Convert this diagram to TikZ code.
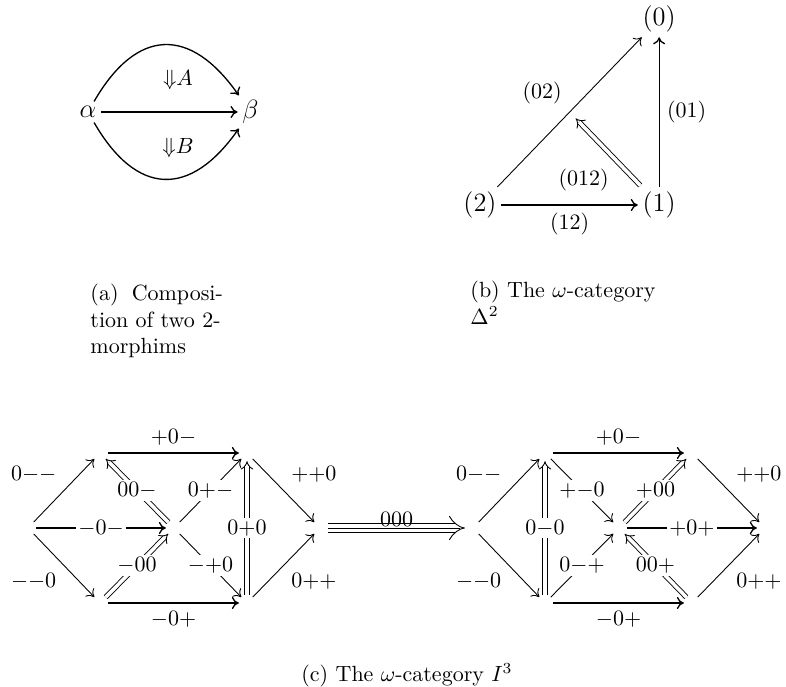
\documentclass[tikz,border=0pt]{standalone}
\usepackage{amsmath,amssymb}
\usepackage{xcolor}
\usepackage{tikz}
\usetikzlibrary{arrows.meta,positioning,calc}
\tikzstyle{vtx} = [circle, inner sep=0pt, minimum size=7pt]
\tikzstyle{arrow} = [thin,-{Computer Modern Rightarrow[length=3.2pt,width=5.5pt]}]
\tikzstyle{harrow} = [semithick,-{Computer Modern Rightarrow[length=3.2pt,width=5.5pt]}]
\tikzstyle{darrow} = [thin,double,double distance=1.6pt,-{Implies}]
\tikzstyle{tarrow} = [thin,double,double distance=3.6pt,-{Implies[scale=1.3]}]
\tikzstyle{brk} = [fill=white, inner sep=1pt]
\newcommand{\sst}[1]{$\medmuskip=0mu\thickmuskip=0mu #1$}

\begin{document}
\begin{tikzpicture}[x=0.4545pt, y=-0.4545pt,
    obj/.style={inner sep=2pt, font=\large},
    captext/.style={inner sep=0pt, align=left}]
    \useasboundingbox (0,0) rectangle (786,687);

    % (a) Composition of two 2-morphims
    \node[obj] (alpha) at (88,112) {$\alpha$};
    \node[obj] (beta) [right=62pt of alpha] {$\beta$};
    \draw[harrow] (alpha) -- (beta);
    \draw[harrow] (alpha) to[out=60,in=125,looseness=1.5] (beta);
    \draw[harrow] (alpha) to[out=-60,in=-125,looseness=1.5] (beta);
    \node (cellA) at (178,80) {\sst{\Downarrow A}};
    \node (cellB) at (178,148) {\sst{\Downarrow B}};
    \node[captext, anchor=north west] (capa) at (90,284) {(a)\hspace{0.6em}Composi-\\tion of two 2-\\morphims};

    % (b) The simplex Delta^2
    \node[obj] (n2) at (480,205) {(2)};
    \node[obj] (n1) [right=62pt of n2] {(1)};
    \node[obj] (n0) [above=68pt of n1] {(0)};
    \draw[harrow] (n2) -- node[below]{\sst{(12)}} (n1);
    \draw[harrow] (n1) -- node[right]{\sst{(01)}} (n0);
    \draw[arrow] (n2) -- node[above left]{\sst{(02)}} (n0);
    \coordinate (m02) at ($(n2)!0.5!(n0)$);
    \draw[darrow, shorten <=1pt, shorten >=4pt] (n1) -- node[below left, pos=0.35]{\sst{(012)}} (m02);
    \node[captext, anchor=north west] (capb) at (470,281) {(b) The $\omega$-category\\$\Delta^2$};

    % (c) The cube I^3 -- source face
    \node[vtx] (l0) at (28,528) {};
    \node[vtx] (la) at (100,453) {};
    \node[vtx] (lb) at (247,453) {};
    \node[vtx] (lc) at (320,528) {};
    \node[vtx] (ld) at (100,603) {};
    \node[vtx] (le) at (247,603) {};
    \node[vtx] (lm) at (174,528) {};
    \draw[arrow] (l0) -- node[above left]{\sst{0--}} (la);
    \draw[arrow] (l0) -- node[below left]{\sst{--0}} (ld);
    \draw[harrow] (l0) -- node[brk]{\sst{-0-}} (lm);
    \draw[harrow] (la) -- node[above]{\sst{+0-}} (lb);
    \draw[harrow] (ld) -- node[below]{\sst{-0+}} (le);
    \draw[arrow] (lb) -- node[above right]{\sst{++0}} (lc);
    \draw[arrow] (le) -- node[below right]{\sst{0++}} (lc);
    \draw[arrow] (lm) -- node[brk]{\sst{0+-}} (lb);
    \draw[arrow] (lm) -- node[brk]{\sst{-+0}} (le);
    \draw[darrow] (lm) -- node[brk]{\sst{00-}} (la);
    \draw[darrow] (ld) -- node[brk]{\sst{-00}} (lm);
    \draw[darrow] (le) -- node[brk]{\sst{0+0}} (lb);

    % (c) The cube I^3 -- target face
    \node[vtx] (r0) at (473,528) {};
    \node[vtx] (ra) at (545,453) {};
    \node[vtx] (rb) at (692,453) {};
    \node[vtx] (rc) at (765,528) {};
    \node[vtx] (rd) at (545,603) {};
    \node[vtx] (re) at (692,603) {};
    \node[vtx] (rm) at (619,528) {};
    \draw[arrow] (r0) -- node[above left]{\sst{0--}} (ra);
    \draw[arrow] (r0) -- node[below left]{\sst{--0}} (rd);
    \draw[harrow] (ra) -- node[above]{\sst{+0-}} (rb);
    \draw[harrow] (rd) -- node[below]{\sst{-0+}} (re);
    \draw[arrow] (rb) -- node[above right]{\sst{++0}} (rc);
    \draw[arrow] (re) -- node[below right]{\sst{0++}} (rc);
    \draw[arrow] (ra) -- node[brk]{\sst{+-0}} (rm);
    \draw[arrow] (rd) -- node[brk]{\sst{0-+}} (rm);
    \draw[harrow] (rm) -- node[brk]{\sst{+0+}} (rc);
    \draw[darrow] (rd) -- node[brk]{\sst{0-0}} (ra);
    \draw[darrow] (rm) -- node[brk]{\sst{+00}} (rb);
    \draw[darrow] (re) -- node[brk]{\sst{00+}} (rm);

    % the 3-cell between the two faces
    \draw[tarrow] (lc) -- node[above=-3pt]{\sst{000}} (r0);
    \draw[thin, shorten >=2pt] (lc) -- (r0);
    \node[captext] (capc) at (407,675) {(c) The $\omega$-category $I^3$};
\end{tikzpicture}
\end{document}
